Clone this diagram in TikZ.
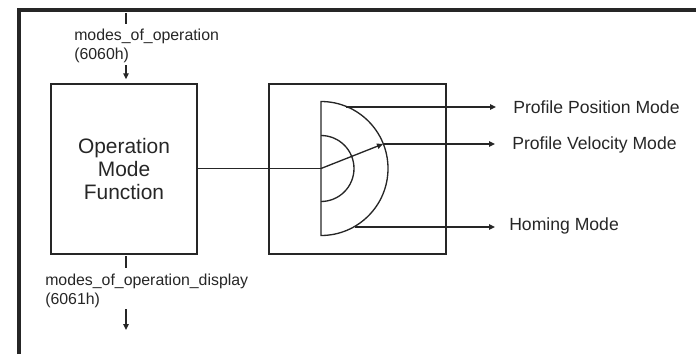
\documentclass[tikz,border=0pt]{standalone}
\usepackage{fontspec}
\setmainfont{Liberation Sans}
\usetikzlibrary{arrows.meta}
\begin{document}
\begin{tikzpicture}[x=0.75pt,y=-0.75pt,
  frame/.style={line width=2.3pt, color=black!85},
  box/.style={draw, line width=1.1pt, color=black!85, inner sep=0pt},
  ln/.style={line width=1pt, color=black!85},
  arr/.style={ln, -{Triangle[length=4.5pt,width=4pt]}},
  small/.style={font=\fontsize{11.9}{14.25}\selectfont, anchor=west, align=left, inner sep=0pt, text=black!85},
  mode/.style={font=\fontsize{13.2}{15}\selectfont, anchor=west, inner sep=0pt, text=black!85}
]
\useasboundingbox (0,0) rectangle (696,354);
% outer frame
\draw[frame] (19,354) |- (696,10);

% boxes
\node[box, minimum width=109.5pt, minimum height=127.5pt, align=center,
      font=\fontsize{15.7}{17.6}\selectfont, text=black!85] (fn) at (124,169)
      {Operation\\Mode\\Function};
\node[box, minimum width=132.75pt, minimum height=127.5pt] (sw) at (357.5,169) {};

% top input
\coordinate (t0) at (126,13);
\coordinate (t1) at (126,24);
\draw[ln] (t0) -- (t1);
\node[small] (inlbl) at (74,45.5) {modes\_of\_operation\\(6060h)};
\coordinate (t2) at (126,65);
\draw[arr, shorten >=3pt] (t2) -- (t2 |- fn.north);

% bottom output
\coordinate (b0) at (126,256);
\coordinate (b1) at (126,268);
\draw[ln] (b0) -- (b1);
\node[small] (outlbl) at (45,290.5) {modes\_of\_operation\_display\\(6061h)};
\coordinate (b2) at (126,309);
\coordinate (b3) at (126,330);
\draw[arr] (b2) -- (b3);

% selector half discs
\coordinate (c) at (321,168.5);
\draw[ln] (321,101.5) arc[start angle=-90, end angle=90, radius=67] -- cycle;
\draw[ln] (321,135.5) arc[start angle=-90, end angle=90, radius=33];

% connection from function box to selector
\draw[ln] (fn.east |- c) -- (c);
\coordinate (o2) at (383,144);
\draw[arr] (c) -- (o2);

% outputs
\coordinate (o1) at (346,107);
\coordinate (o3) at (355,227);
\node[mode] (ppm) at (513,107) {Profile Position Mode};
\node[mode] (pvm) at (512,145) {Profile Velocity Mode};
\node[mode] (hm) at (509,226) {Homing Mode};
\draw[arr, shorten >=12.75pt] (o1) -- (o1 -| ppm.west);
\draw[arr, shorten >=12.75pt] (o2) -- (o2 -| pvm.west);
\draw[arr, shorten >=10.5pt] (o3) -- (o3 -| hm.west);
\end{tikzpicture}
\end{document}
